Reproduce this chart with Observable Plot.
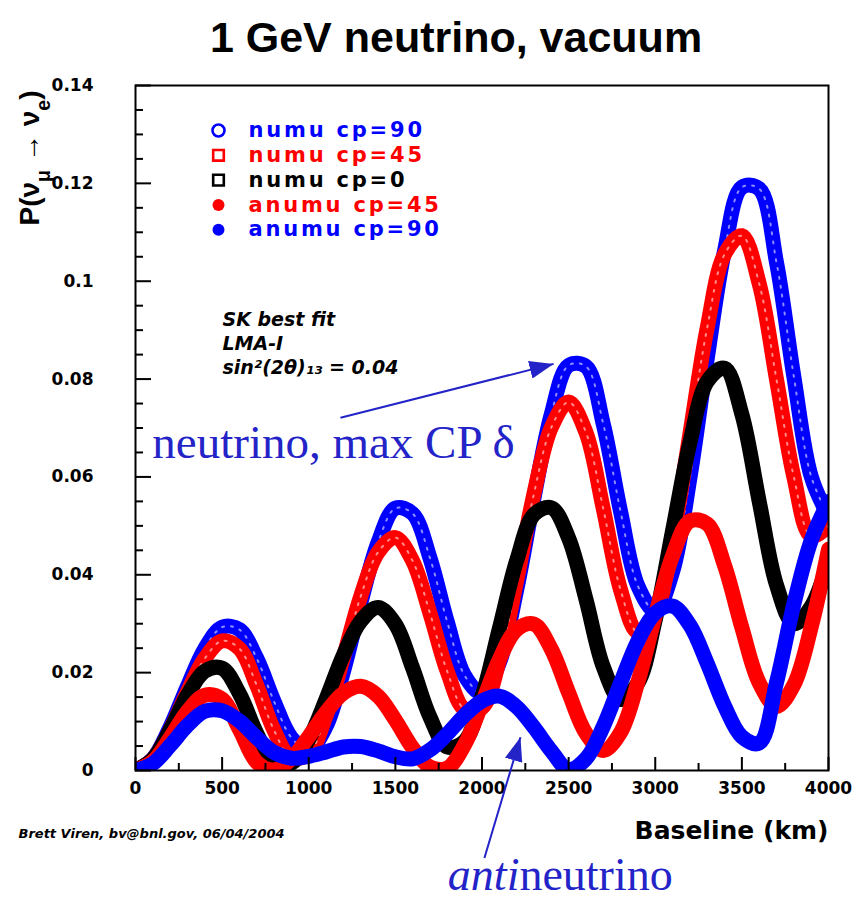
<!DOCTYPE html>
<html><head><meta charset="utf-8">
<script src="https://cdn.jsdelivr.net/npm/d3@7"></script>
<script src="https://cdn.jsdelivr.net/npm/@observablehq/plot@0.6"></script>
<style>body{margin:0;background:#fff}#chart svg{display:block}</style>
</head><body><div id="chart"></div>
<script>
// Baseline (km)
const baselineKm = [0,100,200,300,400,500,600,700,800,900,1000,1100,1200,1300,1400,1500,1600,1700,1800,1900,2000,
  2100,2200,2300,2400,2500,2600,2700,2800,2900,3000,3100,3200,3300,3400,3500,3600,3700,3800,3900,4000];
// P(numu -> nue)
const numuCp90 = [0,.0024,.0089,.0172,.0249,.0293,.0288,.0229,.0141,.0067,.0042,.0090,.0202,.0342,.0466,.0536,.0525,.0434,.0303,.0194,.0158,
  .0220,.0369,.0557,.0728,.0828,.0826,.0708,.0529,.0377,.0326,.0406,.0598,.0842,.1062,.1192,.1189,.1038,.0805,.0601,.0520];
const numuCp45 = [0,.0023,.0083,.0161,.0229,.0265,.0249,.0174,.0082,.0025,.0035,.0112,.0231,.0356,.0446,.0476,.0428,.0321,.0202,.0125,.0128,
  .0225,.0388,.0566,.0701,.0753,.0691,.0535,.0369,.0282,.0320,.0471,.0688,.0905,.1055,.1093,.0995,.0799,.0600,.0479,.0500];
const numuCp0 = [0,.0023,.0083,.0154,.0203,.0209,.0157,.0076,.0016,.0015,.0064,.0146,.0236,.0305,.0333,.0299,.0209,.0109,.0048,.0060,.0151,
  .0290,.0429,.0523,.0537,.0475,.0350,.0212,.0145,.0179,.0308,.0490,.0670,.0795,.0822,.0728,.0550,.0379,.0300,.0335,.0430];
const anumuCp45 = [0,.0019,.0067,.0121,.0154,.0146,.0084,.0017,.0001,.0024,.0069,.0119,.0158,.0172,.0152,.0103,.0046,.0007,.0005,.0053,.0137,
  .0227,.0288,.0299,.0248,.0159,.0076,.0041,.0078,.0181,.0316,.0439,.0510,.0504,.0419,.0292,.0179,.0131,.0175,.0293,.0452];
const anumuCp90 = [0,.0014,.0051,.0092,.0121,.0122,.0101,.0067,.0037,.0025,.0029,.0038,.0048,.0049,.0040,.0028,.0024,.0042,.0075,.0113,.0142,
  .0152,.0130,.0088,.0040,.0002,.0024,.0090,.0179,.0265,.0322,.0336,.0297,.0219,.0132,.0069,.0056,.0180,.0340,.0470,.0550];

const seriesNames = ["numu cp=90","numu cp=45","numu cp=0","anumu cp=45","anumu cp=90"];
const seriesValues = [numuCp90, numuCp45, numuCp0, anumuCp45, anumuCp90];
const seriesColors = ["#0000ff","#ff0000","#000000","#ff0000","#0000ff"];
const seriesSymbols = ["circle","square","square","circle","circle"];
const seriesOpen = [true,true,true,false,false];

const xMajor = [0,500,1000,1500,2000,2500,3000,3500,4000];
const xTickLabels = ["0","500","1000","1500","2000","2500","3000","3500","4000"];
const xMinor = [250,750,1250,1750,2250,2750,3250,3750];
const yMajor = [0,0.02,0.04,0.06,0.08,0.1,0.12,0.14];
const yTickLabels = ["0","0.02","0.04","0.06","0.08","0.1","0.12","0.14"];
const yMinor = [0.005,0.01,0.015,0.025,0.03,0.035,0.045,0.05,0.055,0.065,0.07,0.075,0.085,0.09,0.095,0.105,0.11,0.115,0.125,0.13,0.135];

const noteLines = ["SK best fit","LMA-I","sin²(2θ)₁₃ = 0.04"];
const annArrows = [
  {x1: 1183, y1: 0.0721, x2: 2413, y2: 0.0831},
  {x1: 2014, y1: -0.0179, x2: 2222, y2: 0.0068}
];
const annBlue = "#2323c8";

const table = seriesNames.flatMap((s, j) => baselineKm.map((km, i) => ({series: s, km, p: seriesValues[j][i]})));

const marks = [];
seriesNames.forEach((s, j) => {
  const rows = table.filter(d => d.series === s);
  marks.push(Plot.line(rows, {x: "km", y: "p", stroke: seriesColors[j], strokeWidth: 15,
    curve: "catmull-rom", clip: true, strokeLinejoin: "round", strokeLinecap: "round"}));
  if (seriesOpen[j] && j < 2) {
    marks.push(Plot.line(rows, {x: "km", y: "p", stroke: "white", strokeWidth: 2, strokeOpacity: 0.55,
      strokeDasharray: "2,7", curve: "catmull-rom", clip: true}));
  }
});

marks.push(
  Plot.frame({stroke: "black", strokeWidth: 2}),
  Plot.axisY(yMajor, {tickSize: -16, strokeWidth: 2, tickFormat: () => "", label: null}),
  Plot.axisY(yMinor, {tickSize: -8, strokeWidth: 2, tickFormat: () => "", label: null}),
  Plot.axisY(yMajor, {tickSize: 0, tickPadding: 42, tickFormat: d => yTickLabels[yMajor.indexOf(d)],
    fontSize: 17, fontWeight: "bold", label: null}),
  Plot.axisX(xMajor, {tickSize: -13, strokeWidth: 2, tickFormat: () => "", label: null}),
  Plot.axisX(xMinor, {tickSize: -7, strokeWidth: 2, tickFormat: () => "", label: null}),
  Plot.axisX(xMajor, {tickSize: 0, tickPadding: 11, tickFormat: d => xTickLabels[xMajor.indexOf(d)],
    fontSize: 17, fontWeight: "bold", label: null}),
  // legend
  Plot.dot(seriesNames, {x: () => 479, y: (d, i) => 0.1308 - i * 0.00507,
    symbol: (d, i) => seriesSymbols[i],
    stroke: (d, i) => seriesColors[i], fill: (d, i) => seriesOpen[i] ? "none" : seriesColors[i],
    r: 6, strokeWidth: (d, i) => seriesOpen[i] ? 2.6 : 0}),
  Plot.text(seriesNames, {x: () => 652, y: (d, i) => 0.1308 - i * 0.00507, text: d => d,
    fill: (d, i) => seriesColors[i], textAnchor: "start", lineAnchor: "middle", className: "legtext",
    fontSize: 21, fontWeight: "bold", fontFamily: "DejaVu Sans"}),
  // notes
  Plot.text(noteLines, {x: () => 502, y: (d, i) => 0.0920 - i * 0.00485, text: d => d,
    textAnchor: "start", lineAnchor: "middle", fontSize: 19, fontStyle: "italic", fontWeight: "bold", fontFamily: "DejaVu Sans"}),
  // annotations
  Plot.text(["neutrino, max CP δ"], {x: () => 1143, y: () => 0.0670, text: d => d, fill: annBlue,
    textAnchor: "middle", lineAnchor: "middle", fontSize: 47, fontWeight: "normal", fontFamily: "Liberation Serif"}),
  Plot.text(["anti"], {x: () => 2216, y: () => -0.0215, text: d => d, fill: annBlue,
    textAnchor: "end", lineAnchor: "middle", fontSize: 46, fontStyle: "italic", fontWeight: "normal", fontFamily: "Liberation Serif"}),
  Plot.text(["neutrino"], {x: () => 2216, y: () => -0.0215, text: d => d, fill: annBlue,
    textAnchor: "start", lineAnchor: "middle", fontSize: 46, fontWeight: "normal", fontFamily: "Liberation Serif"}),
  Plot.link(annArrows, {x1: "x1", y1: "y1", x2: "x2", y2: "y2", stroke: annBlue, strokeWidth: 2, className: "annarrow"}),
  // title, axis titles, credit
  Plot.text(["1 GeV neutrino, vacuum"], {frameAnchor: "top", dx: -26, dy: -47, text: d => d,
    lineAnchor: "middle", fontSize: 43, fontWeight: "bold", fontFamily: "Liberation Sans"}),
  Plot.text(["Baseline (km)"], {frameAnchor: "bottom-right", dy: 60, text: d => d, textAnchor: "end",
    lineAnchor: "middle", fontSize: 25, fontWeight: "bold", fontFamily: "DejaVu Sans"}),
  Plot.text(["Brett Viren, bv@bnl.gov, 06/04/2004"], {frameAnchor: "bottom-left", dx: -117, dy: 63, text: d => d,
    textAnchor: "start", lineAnchor: "middle", fontSize: 13, fontStyle: "italic", fontWeight: "bold", fontFamily: "DejaVu Sans"}),
  Plot.text(["P"], {frameAnchor: "left", dx: -105, dy: -270, rotate: -90, text: d => d, className: "ylab",
    textAnchor: "middle", lineAnchor: "middle", fontSize: 28, fontWeight: "bold", fontFamily: "Liberation Sans"})
);

const svg = Plot.plot({
  width: 856, height: 901,
  marginTop: 85, marginBottom: 131, marginLeft: 135, marginRight: 28,
  x: {domain: [0, 4000]},
  y: {domain: [0, 0.14]},
  style: {fontFamily: "DejaVu Sans", background: "white", color: "black", overflow: "visible"},
  marks
});

// wider legend lettering, as in the reference
d3.select(svg).selectAll("g.legtext text").attr("letter-spacing", "2.8px");

// y-axis title with subscripts
const yl = d3.select(svg).select("g.ylab text");
yl.text(null);
yl.append("tspan").text("P(ν");
yl.append("tspan").attr("baseline-shift", "sub").attr("font-size", "70%").text("μ");
yl.append("tspan").text(" → ν");
yl.append("tspan").attr("baseline-shift", "sub").attr("font-size", "70%").text("e");
yl.append("tspan").text(")");

// filled arrowheads
const defs = d3.select(svg).insert("defs", ":first-child");
defs.append("marker").attr("id", "ahead").attr("viewBox", "0 0 24 18")
  .attr("refX", 24).attr("refY", 9).attr("markerWidth", 24).attr("markerHeight", 18)
  .attr("markerUnits", "userSpaceOnUse").attr("orient", "auto")
  .append("path").attr("d", "M0,0L24,9L0,18Z").attr("fill", annBlue);
d3.select(svg).selectAll("g.annarrow path").attr("marker-end", "url(#ahead)");

document.getElementById("chart").appendChild(svg);
</script>
</body></html>
